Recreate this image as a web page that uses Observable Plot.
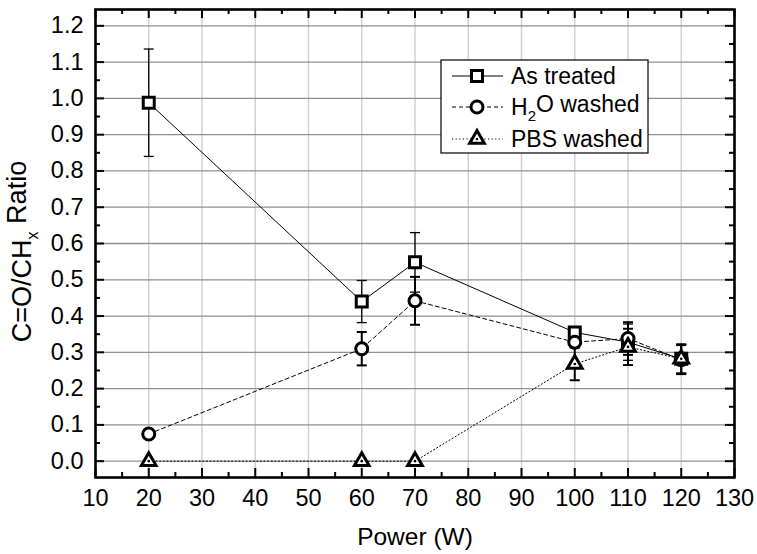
<!DOCTYPE html>
<html><head><meta charset="utf-8">
<script src="https://cdn.jsdelivr.net/npm/d3@7"></script>
<script src="https://cdn.jsdelivr.net/npm/@observablehq/plot@0.6"></script>
<style>
body{margin:0;background:#fff}
#chart{position:relative;width:757px;height:554px;font-family:"Liberation Sans",Arial,sans-serif}
#legend{position:absolute;left:0;top:0}
</style>
</head><body><div id="chart"></div>
<script>
// ---- data ----
const powers = [20, 60, 70, 100, 110, 120];
const seriesNames = ["As treated", "H2O washed", "PBS washed"];
const asTreated    = [0.988, 0.440, 0.548, 0.355, 0.328, 0.282];
const asTreatedErr = [0.148, 0.058, 0.082, 0.010, 0.050, 0.040];
const h2oWashed    = [0.075, 0.310, 0.442, 0.328, 0.338, 0.280];
const h2oWashedErr = [0.008, 0.046, 0.066, 0.010, 0.045, 0.040];
const pbsWashed    = [0.000, 0.000, 0.000, 0.268, 0.315, 0.282];
const pbsWashedErr = [0.000, 0.000, 0.000, 0.045, 0.050, 0.040];
const xTicks = [10, 20, 30, 40, 50, 60, 70, 80, 90, 100, 110, 120, 130];
const xMinorTicks = [15, 25, 35, 45, 55, 65, 75, 85, 95, 105, 115, 125];
const yTicks = [0.0, 0.1, 0.2, 0.3, 0.4, 0.5, 0.6, 0.7, 0.8, 0.9, 1.0, 1.1, 1.2];
const yMinorTicks = [0.05, 0.15, 0.25, 0.35, 0.45, 0.55, 0.65, 0.75, 0.85, 0.95, 1.05, 1.15];

// ---- layout ----
const W = 757, H = 554;
const mL = 95, mR = 23, mT = 9, mB = 77;
const plotW = W - mL - mR, plotH = H - mT - mB;
const FONT = "'Liberation Sans', Arial, sans-serif";
const FS_TICK = 23.5, FS_TITLE = 24.5, FS_YTITLE = 27, FS_LEG = 23;

const styles = [
  {symbol: "square2",   r: 7,   dash: null,  errW: 1.3},
  {symbol: "circle",    r: 6,   dash: "4,3", errW: 2},
  {symbol: "triangle2", r: 7,   dash: "1.2,2.4", errW: 2}
];
const valueSets = [[asTreated, asTreatedErr], [h2oWashed, h2oWashedErr], [pbsWashed, pbsWashedErr]];
const table = valueSets.map(([vals, errs], s) =>
  powers.map((p, i) => ({series: seriesNames[s], x: p, y: vals[i], lo: vals[i] - errs[i], hi: vals[i] + errs[i], err: errs[i]})));

const capSymbol = {draw(ctx, size) { const w = Math.sqrt(size / Math.PI); ctx.moveTo(-w, 0); ctx.lineTo(w, 0); }};

const marks = [
  Plot.ruleX(xTicks, {x: d => d, stroke: "#cfcfcf", strokeWidth: 1.4}),
  Plot.ruleY(yTicks, {y: d => d, stroke: "#8f8f8f", strokeWidth: 1.3})
];
table.forEach((rows, s) => {
  marks.push(Plot.line(rows, {x: "x", y: "y", stroke: "black", strokeWidth: 1, strokeDasharray: styles[s].dash}));
});
table.forEach((rows, s) => {
  const er = rows.filter(d => d.err > 0);
  marks.push(
    Plot.ruleX(er, {x: "x", y1: "lo", y2: "hi", stroke: "black", strokeWidth: styles[s].errW}),
    Plot.dot(er, {x: "x", y: "hi", symbol: capSymbol, r: 5, stroke: "black", strokeWidth: styles[s].errW}),
    Plot.dot(er, {x: "x", y: "lo", symbol: capSymbol, r: 5, stroke: "black", strokeWidth: styles[s].errW})
  );
});
table.forEach((rows, s) => {
  marks.push(Plot.dot(rows, {x: "x", y: "y", symbol: styles[s].symbol, r: styles[s].r, fill: "white", stroke: "black", strokeWidth: 3}));
  if (styles[s].symbol === "triangle2") marks.push(Plot.dot(rows, {x: "x", y: "y", r: 1.3, fill: "black"}));
});
// inward ticks on all four sides
const tk = (data, len, side, w) => {
  const o = {stroke: "black", strokeWidth: w};
  if (side === "bottom") return Plot.tickX(data, {...o, x: d => d, insetTop: plotH - len});
  if (side === "top") return Plot.tickX(data, {...o, x: d => d, insetBottom: plotH - len});
  if (side === "left") return Plot.tickY(data, {...o, y: d => d, insetRight: plotW - len});
  return Plot.tickY(data, {...o, y: d => d, insetLeft: plotW - len});
};
["bottom", "top"].forEach(s => { marks.push(tk(xTicks, 9, s, 2), tk(xMinorTicks, 5, s, 2)); });
["left", "right"].forEach(s => { marks.push(tk(yTicks, 9, s, 2), tk(yMinorTicks, 5, s, 2)); });
marks.push(
  Plot.frame({stroke: "black", strokeWidth: 2.6}),
  Plot.axisX({ticks: xTicks, tickSize: 0, tickPadding: 12, fontSize: FS_TICK, label: null, tickFormat: d => d}),
  Plot.axisY({ticks: yTicks, tickSize: 0, tickPadding: 12, fontSize: FS_TICK, label: null, tickFormat: d3.format(".1f")}),
  Plot.text(["Power (W)"], {text: d => d, frameAnchor: "bottom", textAnchor: "middle", dy: 60, fontSize: FS_TITLE, lineAnchor: "middle"}),
  Plot.text(["C=O/CH_x Ratio"], {text: d => d, frameAnchor: "left", textAnchor: "middle", dx: -73.5, dy: 8, rotate: -90, fontSize: FS_YTITLE, lineAnchor: "middle"})
);

const chart = Plot.plot({
  width: W, height: H,
  marginLeft: mL, marginRight: mR, marginTop: mT, marginBottom: mB,
  x: {domain: [10, 130]},
  y: {domain: [-0.045, 1.245]},
  style: {fontFamily: FONT, fontSize: FS_TICK + "px", color: "black", background: "white"},
  marks
});
const root = document.getElementById("chart");
root.appendChild(chart);

// subscript in y label
d3.select(chart).selectAll("text").filter(function() { return this.textContent === "C=O/CH_x Ratio"; })
  .each(function() {
    const t = d3.select(this); t.text(null);
    t.append("tspan").text("C=O/CH");
    t.append("tspan").attr("dy", "0.45em").attr("font-size", 16).text("x");
    t.append("tspan").attr("dy", "-0.45em").text(" Ratio");
  });

// legend
const lg = d3.select(root).append("svg").attr("id", "legend").attr("width", W).attr("height", H)
  .style("font-family", FONT);
lg.append("rect").attr("x", 441).attr("y", 60).attr("width", 207).attr("height", 93)
  .attr("fill", "white").attr("stroke", "black").attr("stroke-width", 1.2);
const symMap = {square2: d3.symbolSquare2, circle: d3.symbolCircle, triangle2: d3.symbolTriangle2};
const rowY = [76, 107, 139];
seriesNames.forEach((name, s) => {
  const y = rowY[s], st = styles[s];
  lg.append("line").attr("x1", 452).attr("x2", 503).attr("y1", y).attr("y2", y)
    .attr("stroke", "black").attr("stroke-width", 1).attr("stroke-dasharray", st.dash);
  lg.append("path").attr("transform", `translate(477,${y})`)
    .attr("d", d3.symbol(symMap[st.symbol], Math.PI * st.r * st.r)())
    .attr("fill", "white").attr("stroke", "black").attr("stroke-width", 3);
  if (st.symbol === "triangle2") lg.append("circle").attr("cx", 477).attr("cy", y).attr("r", 1.3);
  const t = lg.append("text").attr("x", 511).attr("y", y).attr("dy", "0.36em").attr("font-size", FS_LEG);
  if (name.startsWith("H2O")) {
    t.append("tspan").text("H");
    t.append("tspan").attr("dy", "0.35em").attr("font-size", 15).text("2");
    t.append("tspan").attr("dy", "-0.35em").text("O washed");
  } else t.text(name);
});
</script>
</body></html>
